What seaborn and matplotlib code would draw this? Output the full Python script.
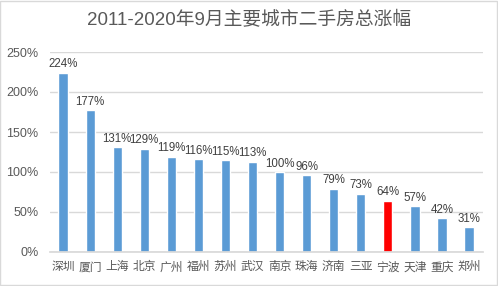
import matplotlib
matplotlib.use("Agg")
import matplotlib.pyplot as plt
import seaborn as sns
import pandas as pd
from matplotlib.ticker import FuncFormatter

cities = ["深圳", "厦门", "上海", "北京", "广州", "福州", "苏州", "武汉",
          "南京", "珠海", "济南", "三亚", "宁波", "天津", "重庆", "郑州"]
growth = [224, 177, 131, 129, 119, 116, 115, 113, 100, 96, 79, 73, 64, 57, 42, 31]
highlight_city = "宁波"
yticks = [0, 50, 100, 150, 200, 250]

sns.set_theme(style="white")
plt.rcParams['font.family'] = ['Liberation Sans', 'Noto Sans CJK SC', 'DejaVu Sans']

df = pd.DataFrame({"city": cities, "growth": growth})
colors = ["#FF0000" if c == highlight_city else "#5B9BD5" for c in cities]

fig = plt.figure(figsize=(4.98, 2.86), dpi=100)
ax = fig.add_axes([49.5/498, 1 - 252/286, (482.6 - 49.5)/498, 200/286])

sns.barplot(data=df, x="city", y="growth", hue="city", palette=colors,
            legend=False, width=0.34, ax=ax, saturation=1)

ax.set_ylim(0, 250)
ax.set_xlim(-0.5, len(cities) - 0.5)
ax.set_yticks(yticks)
ax.yaxis.set_major_formatter(FuncFormatter(lambda v, p: f"{int(v)}%"))
ax.grid(axis="y", color="#D9D9D9", linewidth=1)
ax.set_axisbelow(True)
for s in ["top", "right", "left"]:
    ax.spines[s].set_visible(False)
ax.spines["bottom"].set_color("#D9D9D9")
ax.tick_params(axis="y", length=0, labelsize=9, colors="#595959", pad=8)
ax.tick_params(axis="x", length=0, labelsize=8.5, colors="#595959", pad=6)
for lbl in ax.get_xticklabels():
    lbl.set_family(['Noto Sans CJK SC', 'DejaVu Sans'])
ax.set_xlabel("")
ax.set_ylabel("")

for i, v in enumerate(growth):
    ax.text(i, v + 3, f"{v}%", ha="center", va="bottom", fontsize=8.3, color="#404040")

fig.text(0.5, 1 - 20/286, "2011-2020年9月主要城市二手房总涨幅", ha="center", va="center",
         fontsize=13.5, color="#595959")

border = plt.Rectangle((0.001, 0.002), 0.997, 0.995, transform=fig.transFigure,
                       fill=False, edgecolor="#D9D9D9", linewidth=1)
fig.patches.append(border)

fig.savefig("out.png", dpi=100, facecolor="white")
